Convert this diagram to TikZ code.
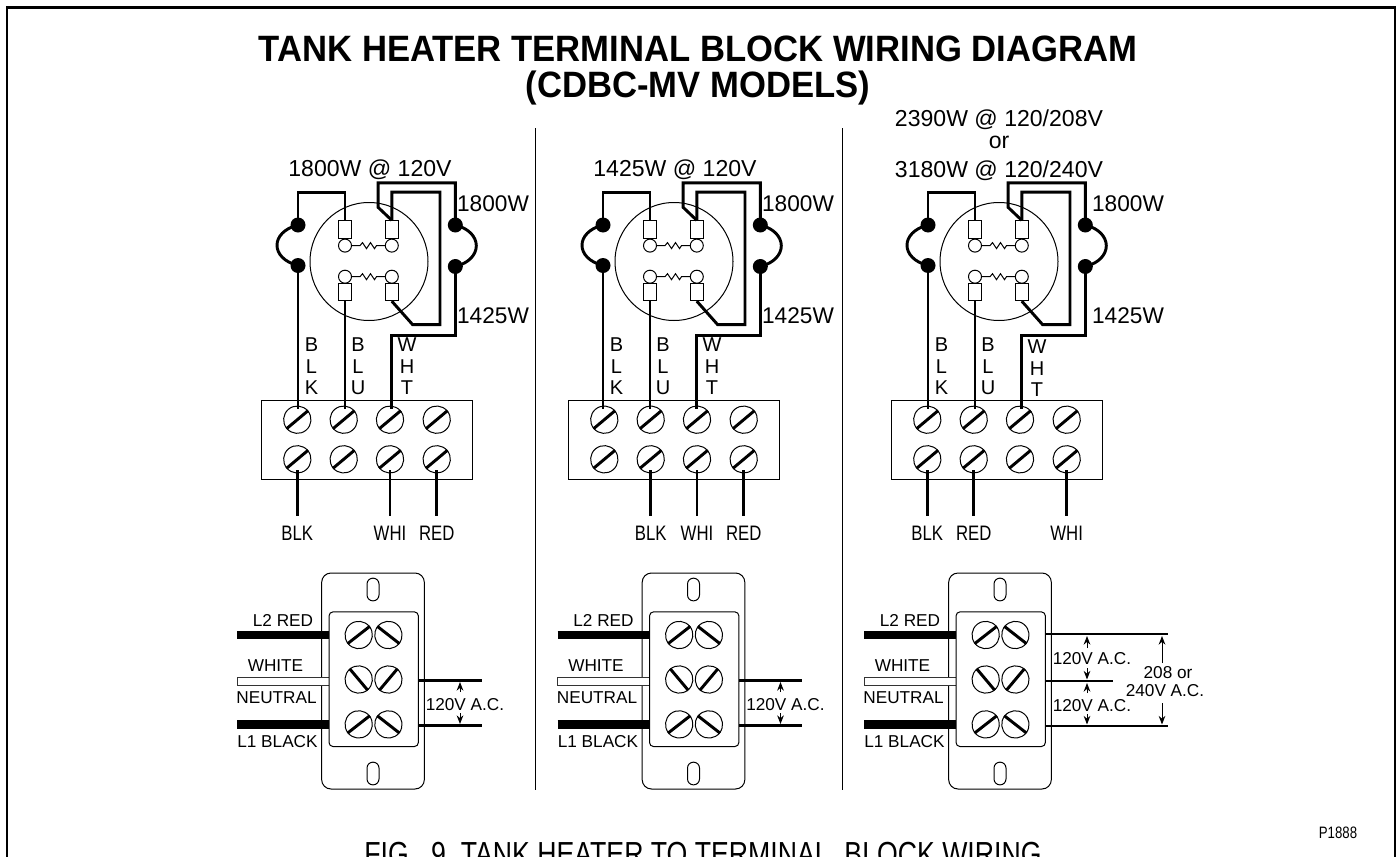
\documentclass[tikz,border=0pt]{standalone}
\usepackage{fontspec}
\setmainfont{Liberation Sans}
\newfontfamily\narrowf[FakeStretch=0.8]{Liberation Sans}
\newfontfamily\titlef[FakeStretch=0.945]{Liberation Sans}
\tikzset{
  wire/.style={line width=2.2pt,line join=miter},
  thin line/.style={line width=0.75pt},
  txt/.style={inner sep=0pt,text depth=0pt,anchor=center},
  big/.style={txt,font=\fontsize{17.3}{18}\selectfont},
  watt/.style={txt,font=\fontsize{17}{18}\selectfont},
  mid/.style={txt,font=\fontsize{15}{16}\selectfont},
  small/.style={txt,font=\fontsize{12.9}{14}\selectfont},
  narrow/.style={txt,font=\narrowf\fontsize{15.7}{16}\selectfont},
  titletxt/.style={txt,font=\titlef\bfseries\fontsize{27.5}{30}\selectfont},
  dot/.style={circle,fill=black,inner sep=0pt,minimum size=11.25pt},
  ring/.style={circle,draw,line width=0.75pt,inner sep=0pt,minimum size=9.75pt},
  termbox/.style={draw,line width=0.75pt,inner sep=0pt,minimum width=10pt,minimum height=13pt},
  screw/.style={circle,draw,line width=0.75pt,inner sep=0pt,minimum size=20.5pt},
  slash/.style={line width=2.2pt},
  plate/.style={draw,line width=0.75pt,fill=white,inner sep=0pt,rounded corners=7pt,minimum width=77pt,minimum height=162pt},
  inner plate/.style={draw,line width=0.75pt,fill=white,inner sep=0pt,rounded corners=3pt,minimum width=67pt,minimum height=101pt},
  slot/.style={draw,line width=0.75pt,inner sep=0pt,rounded corners=4.4pt,minimum width=9pt,minimum height=17pt},
  fatwire/.style={line width=6.4pt},
  whitewire/.style={draw=black!80,fill=white,line width=0.75pt,inner sep=0pt,minimum height=6.6pt},
  outwire/.style={line width=2.2pt},
  dim/.style={line width=0.75pt,-{Stealth[length=6.5pt,width=5pt]}},
  divider/.style={line width=0.75pt},
}
\usetikzlibrary{arrows.meta,calc}
\newcommand{\heater}[4]{% prefix, x shift, W-H-T extra y, unused
\begin{scope}[shift={(#2,0)}]
  \node[circle,draw,line width=0.75pt,inner sep=0pt,minimum size=88.5pt] (#1disc) at (369,261.5) {};
  \node[termbox] (#1tl) at (345,229.5) {};
  \node[termbox] (#1tr) at (391.8,229.5) {};
  \node[termbox] (#1bl) at (345,292) {};
  \node[termbox] (#1br) at (391.8,292) {};
  \node[ring] (#1ctl) at (345,245.6) {};
  \node[ring] (#1ctr) at (391.8,245.6) {};
  \node[ring] (#1cbl) at (345,276.7) {};
  \node[ring] (#1cbr) at (391.8,276.7) {};
  \foreach \a/\b in {ctl/ctr,cbl/cbr}{
    \draw[thin line] (#1\a.east) -- ++(8,0) -- ++(2.5,-3) -- ++(4,6) -- ++(4,-6) -- ++(4,6) -- ++(2,-3) -- (#1\b.west);
  }
  \node[dot] (#1dl1) at (298,225) {};
  \node[dot] (#1dl2) at (298,265.5) {};
  \node[dot] (#1dr1) at (455.3,225) {};
  \node[dot] (#1dr2) at (455.3,266.5) {};
  \draw[wire] (#1dl1.center) .. controls ($(#1dl1)+(-28,7)$) and ($(#1dl2)+(-28,-7)$) .. (#1dl2.center);
  \draw[wire] (#1dr1.center) .. controls ($(#1dr1)+(28,7)$) and ($(#1dr2)+(28,-7)$) .. (#1dr2.center);
  \coordinate (#1t1) at (298,400);
  \coordinate (#1t2) at (345,400);
  \coordinate (#1t3) at (391.8,400);
  \draw[wire] (#1t1) -- (#1dl2.center);
  \draw[wire] (#1dl1.center) |- (345,192.2) -- (#1tl.north);
  \draw[wire] (#1bl.south) -- (#1t2);
  \draw[wire] (#1tr.north) -- (378.2,207.4) -- (378.2,182.8) -| (#1dr1.center);
  \draw[wire] (#1dr2.center) |- (391.8,335.8) -- (#1t3);
  \draw[wire] (#1tr.north) |- (440,192.2) -- (440,324.7) -- (412.7,324.7) -- (#1br.south);
  \node[mid] (#1b1) at (311.5,345) {B};
  \node[mid] (#1b2) at (311.5,366.5) {L};
  \node[mid] (#1b3) at (311.5,387.5) {K};
  \node[mid] (#1u1) at (358,345) {B};
  \node[mid] (#1u2) at (358,366.5) {L};
  \node[mid] (#1u3) at (358,387.5) {U};
  \node[mid] (#1w1) at (407,{345+#3}) {W};
  \node[mid] (#1w2) at (407,{366.5+#3}) {H};
  \node[mid] (#1w3) at (407,{387.5+#3}) {T};
\end{scope}}
\newcommand{\block}[2]{% prefix, x shift
\begin{scope}[shift={(#2,0)}]
  \node[draw,line width=0.75pt,inner sep=0pt,minimum width=158.25pt,minimum height=59.25pt] (#1box) at (367.2,439.5) {};
  \foreach \n/\x in {1/297.3,2/343.7,3/390,4/436.7}{
    \node[screw,rotate=40] (#1a\n) at (\x,419.7) {};
    \node[screw,rotate=40] (#1c\n) at (\x,459.3) {};
    \draw[slash] (#1a\n.west) -- (#1a\n.east);
    \draw[slash] (#1c\n.west) -- (#1c\n.east);
  }
\end{scope}}
\newcommand{\outlet}[2]{%
\begin{scope}[shift={(#2,0)}]
  \node[plate] (#1plate) at (373,681) {};
  \node[slot] (#1s1) at (373,589.5) {};
  \node[slot] (#1s2) at (373,773.5) {};
  \coordinate (#1lw1) at (237,635);
  \coordinate (#1lw3) at (237,724.4);
  \draw[fatwire] (#1lw1) -- (329,635);
  \draw[fatwire] (#1lw3) -- (329,724.4);
  \node[whitewire,minimum width=69pt] (#1lw2) at (283,681.4) {};
  \node[inner plate] (#1in) at (373.7,679.2) {};
  \foreach \n/\x/\y/\r in {1/358.7/635/38,2/388.4/635/142,3/358.7/679.5/130,4/388.4/679.5/50,5/358.7/724.4/38,6/388.4/724.4/142}{
    \node[screw,rotate=\r] (#1k\n) at (\x,\y) {};
    \draw[slash] (#1k\n.west) -- (#1k\n.east);
  }
  \node[small] (#1l1) at (283,620.4) {L2 RED};
  \node[small] (#1l2) at (275.5,666) {WHITE};
  \node[small] (#1l3) at (276.5,697.7) {NEUTRAL};
  \node[small] (#1l4) at (277.5,741.6) {L1 BLACK};
\end{scope}}
\begin{document}
\begin{tikzpicture}[x=0.75pt,y=-0.75pt]
\useasboundingbox (0,0) rectangle (1397,857);
\clip (0,0) rectangle (1397,857);
% frame
\coordinate (fa) at (7,857);
\coordinate (fb) at (7,7.5);
\coordinate (fc) at (1395,7.5);
\coordinate (fd) at (1395,857);
\draw[line width=1.9pt] (fa) -- (fb) -- (fc) -- (fd);
% title
\node[titletxt] (t1) at (698,49) {TANK HEATER TERMINAL BLOCK WIRING DIAGRAM};
\node[titletxt] (t2) at (698,84) {(CDBC-MV MODELS)};
% dividers
\coordinate (d1a) at (535,128); \coordinate (d1b) at (535,790);
\coordinate (d2a) at (842,128); \coordinate (d2b) at (842,790);
\draw[divider] (d1a) -- (d1b);
\draw[divider] (d2a) -- (d2b);
% heaters
\heater{p}{0}{0}{}
\heater{q}{305}{0}{}
\heater{r}{630}{2}{}
\node[big] (pw) at (370,168) {1800W @ 120V};
\node[watt] (p18) at (493,204) {1800W};
\node[watt] (p14) at (493,316) {1425W};
\node[big] (qw) at (675,168) {1425W @ 120V};
\node[watt] (q18) at (798,204) {1800W};
\node[watt] (q14) at (798,316) {1425W};
\node[big] (r1) at (999,118) {2390W @ 120/208V};
\node[big] (r2) at (999,142) {or};
\node[big] (r3) at (999,169) {3180W @ 120/240V};
\node[watt] (r18) at (1128,204) {1800W};
\node[watt] (r14) at (1128,316) {1425W};
% blocks
\block{pb}{0}
\block{qb}{307}
\block{rb}{630}
% wires from heater to block: end on screws
\foreach \h/\b in {p/pb,q/qb,r/rb}{
  \draw[wire] (\h t1) -- (\b a1.north -| \h t1);
  \draw[wire] (\h t2) -- (\b a2.north -| \h t2);
  \draw[wire] (\h t3) -- (\b a3.north -| \h t3);
}
% lower wires and labels
\node[narrow] (plb) at (297.3,533) {BLK};
\node[narrow] (plw) at (390,533) {WHI};
\node[narrow] (plr) at (436.7,533) {RED};
\draw[wire] (pbc1.south -| plb) -- (plb.north |- 0,516);
\draw[wire] (pbc3.south -| plw) -- (plw.north |- 0,516);
\draw[wire] (pbc4.south -| plr) -- (plr.north |- 0,516);
\node[narrow] (qlb) at (650.7,533) {BLK};
\node[narrow] (qlw) at (697,533) {WHI};
\node[narrow] (qlr) at (743.7,533) {RED};
\draw[wire] (qbc2.south -| qlb) -- (qlb.north |- 0,516);
\draw[wire] (qbc3.south -| qlw) -- (qlw.north |- 0,516);
\draw[wire] (qbc4.south -| qlr) -- (qlr.north |- 0,516);
\node[narrow] (rlb) at (927.3,533) {BLK};
\node[narrow] (rlr) at (973.7,533) {RED};
\node[narrow] (rlw) at (1066.7,533) {WHI};
\draw[wire] (rbc1.south -| rlb) -- (rlb.north |- 0,516);
\draw[wire] (rbc2.south -| rlr) -- (rlr.north |- 0,516);
\draw[wire] (rbc4.south -| rlw) -- (rlw.north |- 0,516);
% outlets
\outlet{po}{0}
\outlet{qo}{320.5}
\outlet{ro}{627}
% right wires, outlets 1 and 2
\foreach \o/\dx in {po/0,qo/320.5}{
  \begin{scope}[shift={(\dx,0)}]
    \coordinate (\o e1) at (481.5,680.5);
    \coordinate (\o e2) at (481.5,725.4);
    \coordinate (\o a1) at (460,692);
    \coordinate (\o a2) at (460,713);
    \draw[outwire] (\o in.east |- \o e1) -- (\o e1);
    \draw[outwire] (\o in.east |- \o e2) -- (\o e2);
    \draw[dim] (\o a1) -- (460,682);
    \draw[dim] (\o a2) -- (460,724);
    \node[small] (\o v) at (465,704.6) {120V A.C.};
  \end{scope}
}
% right wires, outlet 3
\coordinate (e1) at (1168,634);
\coordinate (e2) at (1112.5,681);
\coordinate (e3) at (1168,726);
\draw[outwire] (roin.east |- e1) -- (e1);
\draw[outwire] (roin.east |- e2) -- (e2);
\draw[outwire] (roin.east |- e3) -- (e3);
\coordinate (a1) at (1087,648); \coordinate (a2) at (1087,668);
\coordinate (a3) at (1087,693); \coordinate (a4) at (1087,714);
\draw[dim] (a1) -- (1087,636);
\draw[dim] (a2) -- (1087,679.5);
\draw[dim] (a3) -- (1087,683);
\draw[dim] (a4) -- (1087,724.5);
\coordinate (a5) at (1162,663); \coordinate (a6) at (1162,703);
\draw[dim] (a5) -- (1162,636);
\draw[dim] (a6) -- (1162,724.5);
\node[small] (rv1) at (1092,658.7) {120V A.C.};
\node[small] (rv2) at (1092,705) {120V A.C.};
\node[small] (rv3) at (1168,672) {208 or};
\node[small] (rv4) at (1165,690.6) {240V A.C.};
% caption and code
\node[txt,font=\narrowf\fontsize{12.4}{14}\selectfont] (code) at (1338,832.7) {P1888};
\node[txt,font=\narrowf\fontsize{25}{26}\selectfont] (cap) at (703,854) {FIG.\ \ 9\ \ TANK HEATER TO TERMINAL\ \ BLOCK WIRING};
\end{tikzpicture}
\end{document}
